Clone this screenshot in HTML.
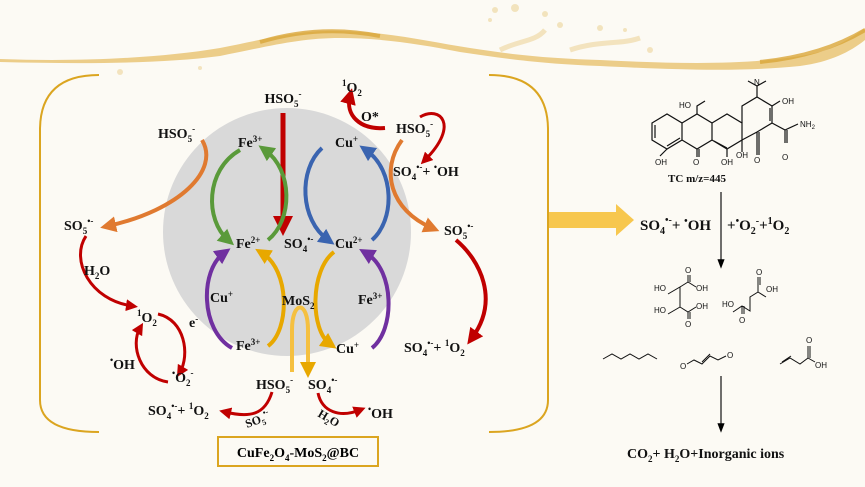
<!DOCTYPE html>
<html><head><meta charset="utf-8"><style>
html,body{margin:0;padding:0;background:#fcfaf4;}
svg{display:block;font-family:"Liberation Serif",serif;font-weight:bold;}
</style></head><body>
<svg width="865" height="487" viewBox="0 0 865 487" xmlns="http://www.w3.org/2000/svg">
<defs>
<marker id="r" markerWidth="4" markerHeight="4" refX="2" refY="2" orient="auto"><path d="M0,0 L4,2 L0,4 Z" fill="#c00000"/></marker>
<marker id="g" markerWidth="4" markerHeight="4" refX="2" refY="2" orient="auto"><path d="M0,0 L4,2 L0,4 Z" fill="#5a9a3a"/></marker>
<marker id="b" markerWidth="4" markerHeight="4" refX="2" refY="2" orient="auto"><path d="M0,0 L4,2 L0,4 Z" fill="#3a64b0"/></marker>
<marker id="o" markerWidth="4" markerHeight="4" refX="2" refY="2" orient="auto"><path d="M0,0 L4,2 L0,4 Z" fill="#e07a30"/></marker>
<marker id="p" markerWidth="4" markerHeight="4" refX="2" refY="2" orient="auto"><path d="M0,0 L4,2 L0,4 Z" fill="#7030a0"/></marker>
<marker id="y" markerWidth="4" markerHeight="4" refX="2" refY="2" orient="auto"><path d="M0,0 L4,2 L0,4 Z" fill="#e8a800"/></marker>
<marker id="k" markerWidth="8" markerHeight="8" refX="4" refY="4" orient="auto"><path d="M0,1 L8,4 L0,7 Z" fill="#000"/></marker>
</defs>
<!-- wave -->
<path d="M0,59 C80,62 160,58 220,48 C270,38 300,30 340,31 C390,32 430,42 470,48 C510,54 540,58 600,60 C680,64 760,66 820,52 C840,46 855,35 865,28 L865,40 C850,52 830,62 800,66 C740,72 680,70 600,66 C540,64 500,58 460,52 C420,44 380,38 340,38 C300,38 270,46 220,56 C160,64 80,64 0,62 Z" fill="#e9c475" opacity="0.85"/>
<path d="M260,42 C300,30 340,28 380,36" fill="none" stroke="#d9a63a" stroke-width="4" opacity="0.8"/>
<path d="M760,62 C800,58 835,48 865,30" fill="none" stroke="#d9a63a" stroke-width="4" opacity="0.8"/>
<path d="M500,50 C520,40 535,42 545,30 M570,50 C600,40 620,45 640,38" fill="none" stroke="#ecd49a" stroke-width="5" opacity="0.6"/>
<g fill="#ecd49a" opacity="0.6">
<circle cx="495" cy="10" r="3"/><circle cx="515" cy="8" r="4"/><circle cx="545" cy="14" r="3"/><circle cx="560" cy="25" r="3"/><circle cx="600" cy="28" r="3"/><circle cx="625" cy="30" r="2"/><circle cx="490" cy="20" r="2"/><circle cx="650" cy="50" r="3"/><circle cx="120" cy="72" r="3"/><circle cx="200" cy="68" r="2"/>
</g>
<!-- brackets -->
<path d="M99,75 Q40,75 40,130 L40,400 Q40,432 99,432" fill="none" stroke="#dba520" stroke-width="2"/>
<path d="M489,75 Q548,75 548,130 L548,400 Q548,432 489,432" fill="none" stroke="#dba520" stroke-width="2"/>
<circle cx="287" cy="232" r="124" fill="#d9d9d9"/>
<!-- arrows -->
<g fill="none" stroke-width="4">
<path d="M283,113 L283,226" stroke="#c00000" marker-end="url(#r)" stroke-width="5"/>
<path d="M240,150 C205,170 205,220 228,240" stroke="#5a9a3a" marker-end="url(#g)"/>
<path d="M268,240 C293,220 293,170 265,150" stroke="#5a9a3a" marker-end="url(#g)"/>
<path d="M322,148 C298,170 300,220 328,240" stroke="#3a64b0" marker-end="url(#b)"/>
<path d="M372,240 C395,220 395,170 366,150" stroke="#3a64b0" marker-end="url(#b)"/>
<path d="M202,140 C220,170 180,210 108,226" stroke="#e07a30" marker-end="url(#o)"/>
<path d="M402,140 C380,170 390,210 432,228" stroke="#e07a30" marker-end="url(#o)"/>
<path d="M232,348 C200,330 200,270 224,253" stroke="#7030a0" marker-end="url(#p)"/>
<path d="M372,348 C395,330 395,270 366,253" stroke="#7030a0" marker-end="url(#p)"/>
<path d="M268,346 C290,330 290,270 262,253" stroke="#e8a800" marker-end="url(#y)"/>
<path d="M334,252 C310,270 310,330 330,344" stroke="#e8a800" marker-end="url(#y)"/>
<path d="M292,372 L292,330 C292,300 308,300 308,330 L308,370" stroke="#f5c040" marker-end="url(#y)"/>
<path d="M385,128 C360,130 345,115 350,96" stroke="#c00000" marker-end="url(#r)"/>
<path d="M420,117 C440,105 460,125 425,160" stroke="#c00000" stroke-width="3" marker-end="url(#r)"/>
<path d="M456,240 C480,260 500,300 472,338" stroke="#c00000" marker-end="url(#r)"/>
<path d="M86,236 C70,260 90,300 132,306" stroke="#c00000" stroke-width="3" marker-end="url(#r)"/>
<path d="M158,314 C185,320 190,355 180,372" stroke="#c00000" stroke-width="3" marker-end="url(#r)"/>
<path d="M168,382 C140,378 130,345 140,328" stroke="#c00000" stroke-width="3" marker-end="url(#r)"/>
<path d="M272,392 C265,415 250,418 225,412" stroke="#c00000" stroke-width="3" marker-end="url(#r)"/>
<path d="M318,393 C322,412 340,418 360,410" stroke="#c00000" stroke-width="3" marker-end="url(#r)"/>
</g>
<!-- labels -->
<g font-size="14" fill="#111">
<text x="283" y="103" text-anchor="middle">HSO<tspan font-size="9" dy="4">5</tspan><tspan font-size="9" dy="-10">-</tspan></text>
<text x="342" y="92"><tspan font-size="9" dy="-6">1</tspan><tspan dy="6">O</tspan><tspan font-size="9" dy="4">2</tspan></text>
<text x="361" y="121">O*</text>
<text x="396" y="133">HSO<tspan font-size="9" dy="4">5</tspan><tspan font-size="9" dy="-10">-</tspan></text>
<text x="393" y="176">SO<tspan font-size="9" dy="4">4</tspan><tspan font-size="9" dy="-10">•-</tspan><tspan dy="6">+ </tspan><tspan font-size="9" dy="-6">•</tspan><tspan dy="6">OH</tspan></text>
<text x="158" y="138">HSO<tspan font-size="9" dy="4">5</tspan><tspan font-size="9" dy="-10">-</tspan></text>
<text x="238" y="147">Fe<tspan font-size="9" dy="-5">3+</tspan></text>
<text x="335" y="147">Cu<tspan font-size="9" dy="-5">+</tspan></text>
<text x="64" y="230">SO<tspan font-size="9" dy="4">5</tspan><tspan font-size="9" dy="-10">•-</tspan></text>
<text x="236" y="248">Fe<tspan font-size="9" dy="-5">2+</tspan></text>
<text x="284" y="248">SO<tspan font-size="9" dy="4">4</tspan><tspan font-size="9" dy="-10">•-</tspan></text>
<text x="335" y="248">Cu<tspan font-size="9" dy="-5">2+</tspan></text>
<text x="444" y="235">SO<tspan font-size="9" dy="4">5</tspan><tspan font-size="9" dy="-10">•-</tspan></text>
<text x="84" y="275">H<tspan font-size="9" dy="4">2</tspan><tspan dy="-4">O</tspan></text>
<text x="210" y="302">Cu<tspan font-size="9" dy="-5">+</tspan></text>
<text x="282" y="305">MoS<tspan font-size="9" dy="4">2</tspan></text>
<text x="358" y="304">Fe<tspan font-size="9" dy="-5">3+</tspan></text>
<text x="137" y="322"><tspan font-size="9" dy="-6">1</tspan><tspan dy="6">O</tspan><tspan font-size="9" dy="4">2</tspan></text>
<text x="189" y="327">e<tspan font-size="9" dy="-5">-</tspan></text>
<text x="236" y="350">Fe<tspan font-size="9" dy="-5">3+</tspan></text>
<text x="336" y="353">Cu<tspan font-size="9" dy="-5">+</tspan></text>
<text x="404" y="352">SO<tspan font-size="9" dy="4">4</tspan><tspan font-size="9" dy="-10">•-</tspan><tspan dy="6">+ </tspan><tspan font-size="9" dy="-6">1</tspan><tspan dy="6">O</tspan><tspan font-size="9" dy="4">2</tspan></text>
<text x="110" y="369"><tspan font-size="9" dy="-6">•</tspan><tspan dy="6">OH</tspan></text>
<text x="172" y="382"><tspan font-size="9" dy="-6">•</tspan><tspan dy="6">O</tspan><tspan font-size="9" dy="4">2</tspan><tspan font-size="9" dy="-10">-</tspan></text>
<text x="256" y="389">HSO<tspan font-size="9" dy="4">5</tspan><tspan font-size="9" dy="-10">-</tspan></text>
<text x="308" y="389">SO<tspan font-size="9" dy="4">4</tspan><tspan font-size="9" dy="-10">•-</tspan></text>
<text x="148" y="415">SO<tspan font-size="9" dy="4">4</tspan><tspan font-size="9" dy="-10">•-</tspan><tspan dy="6">+ </tspan><tspan font-size="9" dy="-6">1</tspan><tspan dy="6">O</tspan><tspan font-size="9" dy="4">2</tspan></text>
<text x="247" y="428" font-size="12" transform="rotate(-20 247 428)">SO<tspan font-size="8" dy="3">5</tspan><tspan font-size="8" dy="-9">•-</tspan></text>
<text x="317" y="416" font-size="12" transform="rotate(30 317 416)">H<tspan font-size="8" dy="3">2</tspan><tspan dy="-3">O</tspan></text>
<text x="368" y="418"><tspan font-size="9" dy="-6">•</tspan><tspan dy="6">OH</tspan></text>
</g>
<rect x="218" y="437" width="160" height="29" fill="#fcfaf4" stroke="#dba520" stroke-width="2"/>
<text x="298" y="457" font-size="14" text-anchor="middle">CuFe<tspan font-size="9" dy="4">2</tspan><tspan dy="-4">O</tspan><tspan font-size="9" dy="4">4</tspan><tspan dy="-4">-MoS</tspan><tspan font-size="9" dy="4">2</tspan><tspan dy="-4">@BC</tspan></text>
<!-- big arrow -->
<path d="M549,212 L616,212 L616,204 L634,220 L616,236 L616,228 L549,228 Z" fill="#f7c74e"/>
<!-- TC structure -->
<g fill="none" stroke="#111" stroke-width="1.2">
<path d="M652,123 L667,114 L682,123 L682,140 L667,149 L652,140 Z M655,125 L655,138 M667,146 L680,138"/>
<path d="M682,123 L697,114 L712,123 L712,140 L697,149 L682,140"/>
<path d="M712,123 L727,114 L742,123 L742,140 L727,149 L712,140 M714,141 L727,148"/>
<path d="M742,123 L742,106 L757,97 L772,106 L772,123 L757,132 L742,140 M770,108 L770,121 M757,97 L757,86 L748,81 M757,86 L766,81 M772,123 L785,130 L785,143 M787,130 L787,143 M785,130 L798,124"/>
<path d="M697,114 L697,106 L705,101 M697,149 L697,157 M699,149 L699,157 M667,149 L660,156 M727,149 L727,157 M742,140 L742,152 M757,132 L757,155 M759,132 L759,155 M772,106 L780,101"/>
</g>
<g font-size="8" font-family="Liberation Sans,sans-serif" font-weight="normal" fill="#111">
<text x="679" y="108">HO</text><text x="754" y="85">N</text><text x="782" y="104">OH</text>
<text x="800" y="127">NH<tspan font-size="6" dy="2">2</tspan></text>
<text x="655" y="165">OH</text><text x="693" y="165">O</text><text x="721" y="165">OH</text><text x="736" y="158">OH</text><text x="754" y="163">O</text><text x="782" y="160">O</text>
</g>
<text x="697" y="182" font-size="11" text-anchor="middle" fill="#111">TC m/z=445</text>
<line x1="721" y1="192" x2="721" y2="264" stroke="#111" stroke-width="1.2" marker-end="url(#k)"/>
<text x="640" y="230" font-size="15" fill="#111">SO<tspan font-size="10" dy="4">4</tspan><tspan font-size="10" dy="-11">•-</tspan><tspan dy="7">+ </tspan><tspan font-size="10" dy="-6">•</tspan><tspan dy="6">OH</tspan></text>
<text x="727" y="230" font-size="15" fill="#111">+<tspan font-size="10" dy="-6">•</tspan><tspan dy="6">O</tspan><tspan font-size="10" dy="4">2</tspan><tspan font-size="10" dy="-10">-</tspan><tspan dy="6">+</tspan><tspan font-size="10" dy="-6">1</tspan><tspan dy="6">O</tspan><tspan font-size="10" dy="4">2</tspan></text>
<!-- products -->
<g fill="none" stroke="#111" stroke-width="1">
<path d="M668,294 L680,287 L680,307 L668,314 M680,287 L688,282 M688,282 L688,275 M690,282 L690,275 M688,282 L696,287 M680,307 L688,312 L696,307 M688,312 L688,319 M690,312 L690,319"/>
<path d="M733,312 L742,306 L750,311 L750,297 L758,292 L758,285 M758,292 L766,297 M742,306 L742,314 M744,306 L744,314 M758,285 L758,277 M760,285 L760,277"/>
<path d="M603,359 L612,354 L621,359 L630,354 L639,359 L648,354 L657,359"/>
<path d="M687,364 L694,360 L702,364 L710,356 L718,360 L726,356 M702,362 L710,354"/>
<path d="M780,364 L790,358 L800,364 L808,358 L808,346 M810,358 L810,346 M782,362 L791,356 M808,358 L815,362"/>
</g>
<g font-size="8" font-family="Liberation Sans,sans-serif" font-weight="normal" fill="#111">
<text x="654" y="291">HO</text><text x="696" y="291">OH</text><text x="654" y="313">HO</text><text x="696" y="309">OH</text>
<text x="685" y="273">O</text><text x="685" y="327">O</text>
<text x="722" y="307">HO</text><text x="766" y="292">OH</text><text x="739" y="323">O</text><text x="756" y="275">O</text>
<text x="680" y="369">O</text><text x="727" y="358">O</text><text x="806" y="343">O</text><text x="815" y="368">OH</text>
</g>
<line x1="721" y1="376" x2="721" y2="428" stroke="#111" stroke-width="1.2" marker-end="url(#k)"/>
<text x="627" y="458" font-size="14" fill="#111">CO<tspan font-size="9" dy="4">2</tspan><tspan dy="-4">+ H</tspan><tspan font-size="9" dy="4">2</tspan><tspan dy="-4">O+Inorganic ions</tspan></text>
</svg>
</body></html>
